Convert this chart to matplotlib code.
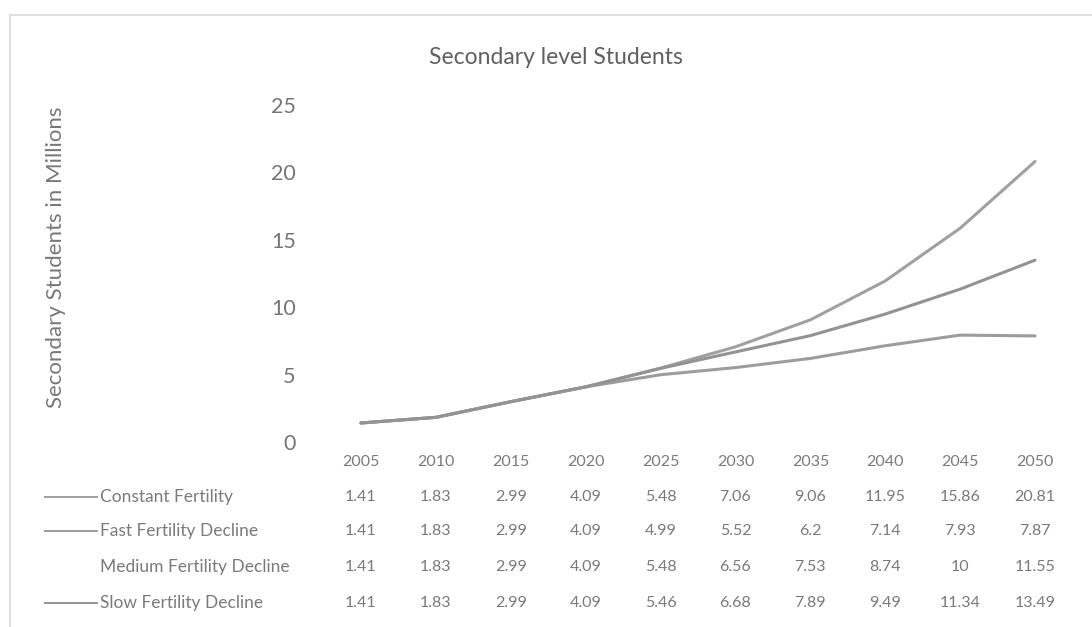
import numpy as np
import matplotlib
matplotlib.use('Agg')
import matplotlib.pyplot as plt
from matplotlib.patches import Rectangle
from matplotlib.lines import Line2D
from matplotlib.transforms import blended_transform_factory

plt.rcParams['font.family'] = ['Lato', 'DejaVu Sans']

# Projected secondary level students (millions)
years = ['2005', '2010', '2015', '2020', '2025', '2030', '2035', '2040', '2045', '2050']
constant = [1.41, 1.83, 2.99, 4.09, 5.48, 7.06, 9.06, 11.95, 15.86, 20.81]
fast = [1.41, 1.83, 2.99, 4.09, 4.99, 5.52, 6.2, 7.14, 7.93, 7.87]
medium = [1.41, 1.83, 2.99, 4.09, 5.48, 6.56, 7.53, 8.74, 10, 11.55]
slow = [1.41, 1.83, 2.99, 4.09, 5.46, 6.68, 7.89, 9.49, 11.34, 13.49]

series_names = ['Constant Fertility', 'Fast Fertility Decline',
                'Medium Fertility Decline', 'Slow Fertility Decline']
series_vals = [constant, fast, medium, slow]
# medium scenario has no visible line in the workbook chart
series_colors = ['#a0a0a0', '#9c9c9c', 'none', '#939393']

W, H = 1092, 627
fig = plt.figure(figsize=(W / 100, H / 100), dpi=100)
fig.patch.set_facecolor('white')

def fx(px):
    return px / W

def fy(py):
    return 1 - py / H

# chart area border
fig.patches.append(Rectangle((fx(10), fy(640)), fx(1100), fy(15) - fy(640),
                             transform=fig.transFigure, fill=False,
                             edgecolor='#d8d8d8', lw=1.2))

ax = fig.add_axes([fx(323.5), fy(442), fx(1072.5) - fx(323.5), fy(105) - fy(442)])
x = np.arange(len(years))
for vals, c in zip(series_vals, series_colors):
    if c != 'none':
        ax.plot(x, vals, color=c, lw=2.2, solid_capstyle='round')

ax.set_xlim(-0.5, len(years) - 0.5)
ax.set_ylim(0, 25)
ax.set_yticks([0, 5, 10, 15, 20, 25])
ax.set_xticks([])
for s in ax.spines.values():
    s.set_visible(False)
ax.tick_params(axis='y', length=0, pad=20, labelsize=15.5, labelcolor='#757575')

fig.text(fx(556), fy(57), 'Secondary level Students', ha='center', va='center',
         fontsize=16.5, color='#606060')
fig.text(fx(56), fy(257), 'Secondary Students in Millions', ha='center', va='center',
         rotation=90, fontsize=16, color='#787878')

# data table below the plot
tbl = blended_transform_factory(ax.transData, fig.transFigure)
row_y = [462, 497, 531, 567, 603]
for i, yr in enumerate(years):
    ax.text(i, fy(row_y[0]), yr, transform=tbl, ha='center', va='center',
            fontsize=11.5, color='#7a7a7a', clip_on=False)
for r, (name, vals, c) in enumerate(zip(series_names, series_vals, series_colors)):
    yy = fy(row_y[r + 1])
    if c != 'none':
        fig.lines.append(Line2D([fx(45), fx(97)], [yy, yy], transform=fig.transFigure,
                                color=c, lw=1.4))
    fig.text(fx(100), yy, name, ha='left', va='center', fontsize=12.5, color='#7a7a7a')
    for i, v in enumerate(vals):
        ax.text(i, yy, f'{v:g}', transform=tbl, ha='center', va='center',
                fontsize=11.5, color='#7a7a7a', clip_on=False)

fig.savefig('out.png', dpi=100)
